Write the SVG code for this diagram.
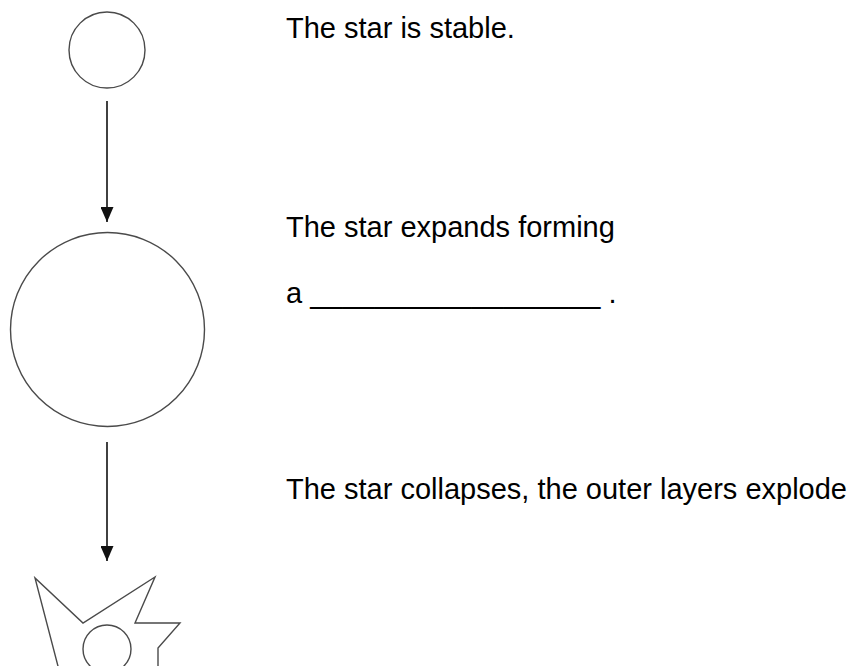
<svg xmlns="http://www.w3.org/2000/svg" width="853" height="666" viewBox="0 0 853 666">
<style>
.shape{fill:none;stroke:#4a4a4a;stroke-width:1.4}
.conn{stroke:#111;stroke-width:1.6;fill:none}
.lbl{font-family:"Liberation Sans",Arial,sans-serif;font-size:29px;fill:#000}
</style>
<defs>
<marker id="ah" viewBox="0 0 15 13" refX="15" refY="6.5" markerWidth="15" markerHeight="13" markerUnits="userSpaceOnUse" orient="auto">
<path d="M0,0 L15,6.5 L0,13 Z" fill="#111"/>
</marker>
</defs>
<rect width="853" height="666" fill="#fff"/>
<g id="star-stable">
<circle class="shape" cx="107" cy="50" r="38"/>
</g>
<g id="red-giant">
<circle class="shape" cx="107.5" cy="329.5" r="97"/>
</g>
<g id="supernova">
<path class="shape" d="M59,670 L35,578 L83,623 L155,577 L135,623 L180,623 L158,648 L158,670"/>
<circle class="shape" cx="107" cy="649" r="24"/>
</g>
<g id="connectors">
<line class="conn" x1="107" y1="101" x2="107" y2="222" marker-end="url(#ah)"/>
<line class="conn" x1="107" y1="442" x2="107" y2="561" marker-end="url(#ah)"/>
</g>
<g id="labels">
<text class="lbl" x="286" y="38">The star is stable.</text>
<text class="lbl" x="286" y="237">The star expands forming</text>
<text class="lbl" x="286" y="303">a __________________ .</text>
<text class="lbl" x="286" y="499">The star collapses, the outer layers explode</text>
</g>
</svg>
